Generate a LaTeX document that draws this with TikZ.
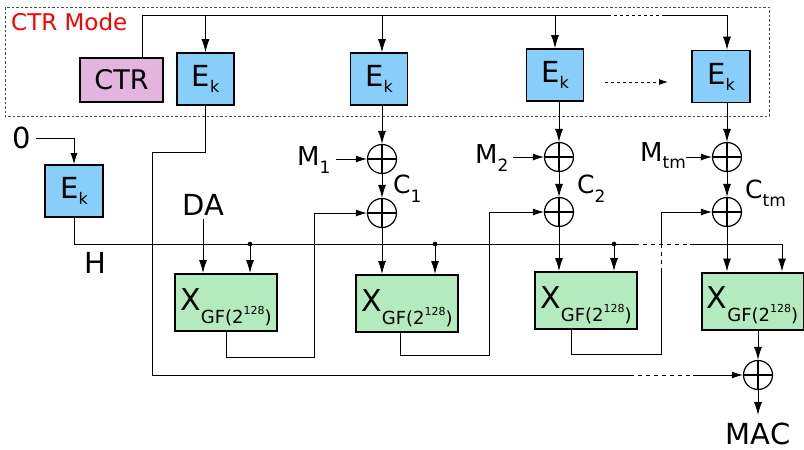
\documentclass[tikz,border=0pt]{standalone}
\usepackage{fontspec}
\setmainfont{DejaVu Sans}
\usetikzlibrary{arrows.meta}
\definecolor{ekblue}{RGB}{135,206,250}
\definecolor{ctrpink}{RGB}{226,180,222}
\definecolor{xgreen}{RGB}{180,235,190}
\newcommand\fsz[1]{\fontsize{#1}{#1}\selectfont}
\newcommand\lowsub[3]{\raisebox{-#1}{\fsz{#2}#3}}
\newcommand\Ek{{\fsz{29}E}\lowsub{6pt}{16}{k}}
\newcommand\Xgf{{\fsz{30}X}\raisebox{-13pt}{\fsz{18}GF(2\raisebox{9pt}{\fsz{11}128})}}
\begin{document}
\begin{tikzpicture}[x=1pt,y=-1pt,
  ln/.style={line width=0.9pt},
  arr/.style={ln,-{Latex[length=13pt,width=8pt]}},
  harr/.style={ln,-{Latex[length=11pt,width=7pt]}},
  ekbox/.style={draw, line width=1.6pt, fill=ekblue, minimum width=57pt, minimum height=52pt, inner sep=0pt},
  ctrbox/.style={draw, line width=1.6pt, fill=ctrpink, minimum width=83pt, minimum height=44pt, inner sep=0pt},
  xbox/.style={draw, line width=2pt, fill=xgreen, minimum width=102pt, minimum height=57pt, inner sep=0pt, text height=23pt, text depth=8pt},
  xorc/.style={circle, draw, line width=1.2pt, minimum size=29pt, inner sep=0pt,
    path picture={\draw[line width=1.2pt] (path picture bounding box.north) -- (path picture bounding box.south)
      (path picture bounding box.west) -- (path picture bounding box.east);}},
  lbl/.style={anchor=base west, inner sep=0pt}
]
\useasboundingbox (0,0) rectangle (804,450);

% CTR mode frame
\draw[dashed, dash pattern=on 2.5pt off 2pt, line width=0.8pt, black!70] (5,7) rectangle (769,116);
\node[anchor=base west, inner sep=0pt, text=red, font=\fsz{23}] (mode) at (11,30) {CTR Mode};

% blocks
\node[ctrbox] (ctr) at (121.5,80) {\fsz{27}CTR};
\node[ekbox] (ek1) at (205.5,79) {\Ek};
\node[ekbox] (ek2) at (379,79) {\Ek};
\node[ekbox] (ek3) at (555,75) {\Ek};
\node[ekbox, minimum width=58pt] (ek4) at (721,76.5) {\Ek};
\node[ekbox, minimum width=58pt] (ek0) at (74,191) {\Ek};

\node[xorc] (xa1) at (382,159) {};
\node[xorc] (xa2) at (559,157) {};
\node[xorc] (xa3) at (727,157) {};
\node[xorc] (xb1) at (382,213) {};
\node[xorc] (xb2) at (559,212) {};
\node[xorc] (xb3) at (727,212) {};
\node[xorc] (xf) at (758,375) {};

\node[xbox] (x1) at (226,302.5) {\Xgf};
\node[xbox] (x2) at (407,303.5) {\Xgf};
\node[xbox] (x3) at (586,300.5) {\Xgf};
\node[xbox] (x4) at (752.5,301) {\Xgf};

% labels
\node[anchor=base, font=\fsz{29}, inner sep=0pt] (zero) at (22,148) {0};
\node[anchor=base, font=\fsz{29}, inner sep=0pt] (da) at (203,215) {DA};
\node[anchor=base, font=\fsz{29}, inner sep=0pt] (h) at (95,273) {H};
\node[anchor=base, font=\fsz{29}, inner sep=0pt] (mac) at (758,444) {MAC};
\node[lbl] (m1) at (297,165) {{\fsz{26}M}\lowsub{8pt}{17}{1}};
\node[lbl] (m2) at (475,163) {{\fsz{26}M}\lowsub{8pt}{17}{2}};
\node[lbl] (mtm) at (640,161) {{\fsz{26}M}\lowsub{7pt}{17}{tm}};
\node[lbl] (c1) at (393,193) {{\fsz{25}C}\lowsub{9pt}{17}{1}};
\node[lbl] (c2) at (577,193) {{\fsz{25}C}\lowsub{9pt}{17}{2}};
\node[lbl] (ctm) at (745,198) {{\fsz{25}C}\lowsub{8pt}{17}{tm}};

% coordinates
\coordinate (tl0) at (142,15.5);
\coordinate (tla) at (608,15.5);
\coordinate (tlb) at (663,15.5);
\coordinate (z0) at (36,138);
\coordinate (ha) at (635,244);
\coordinate (hb) at (690,244);
\coordinate (d1) at (250,244);
\coordinate (d2) at (435,244);
\coordinate (d3) at (614,244);
\coordinate (m1a) at (336,159);
\coordinate (m2a) at (513,157);
\coordinate (mtma) at (686,157);
\coordinate (f1) at (314,357);
\coordinate (f2) at (489,355);
\coordinate (f3) at (661,354);
\coordinate (f3a) at (661,272);
\coordinate (f3b) at (661,246);
\coordinate (la) at (152,152);
\coordinate (lb) at (630,375);
\coordinate (lc) at (693,375);
\coordinate (dda) at (605,82);
\coordinate (ddb) at (668,82);
\coordinate (dao) at (203,219);
\coordinate (macin) at (758,415);

% counter line
\draw[ln] (ctr.north -| tl0) -- (tl0) -- (tla);
\draw[ln, dashed, dash pattern=on 3pt off 3pt] (tla) -- (tlb);
\draw[arr] (tlb) -| (ek4.north -| xa3);
\draw[arr] (ek1.north |- tl0) -- (ek1.north);
\draw[arr] (xa1 |- tl0) -- (ek2.north -| xa1);
\draw[arr] (ek3.north |- tl0) -- (ek3.north);
\draw[ln, dashed, dash pattern=on 3pt off 3pt, -{Latex[length=9pt,width=6pt]}] (dda) -- (ddb);

% keystream to xor
\draw[arr] (ek2.south -| xa1) -- (xa1.north);
\draw[arr] (ek3.south -| xa2) -- (xa2.north);
\draw[arr] (ek4.south -| xa3) -- (xa3.north);
\draw[harr] (m1a) -- (xa1.west);
\draw[harr] (m2a) -- (xa2.west);
\draw[harr] (mtma) -- (xa3.west);
\draw[arr] (xa1.south) -- (xb1.north);
\draw[arr] (xa2.south) -- (xb2.north);
\draw[arr] (xa3.south) -- (xb3.north);
\draw[arr] (xb1.south) -- (x2.north -| xb1);
\draw[arr] (xb2.south) -- (x3.north -| xb2);
\draw[arr] (xb3.south) -- (x4.north -| xb3);

% H
\draw[harr] (z0) -| (ek0.north);
\draw[ln] (ek0.south) |- (ha);
\draw[ln, dashed, dash pattern=on 4pt off 4pt] (ha) -- (hb);
\draw[arr] (hb) -| ([xshift=29.5pt]x4.north);
\foreach \d/\b in {d1/x1, d2/x2, d3/x3}{
  \fill (\d) circle (2.3pt);
  \draw[arr] (\d) -- (\b.north -| \d);
}
\draw[arr] (dao) -- (x1.north -| dao);

% feedback
\draw[harr] (x1.south) |- (f1) |- (xb1.west);
\draw[harr] ([xshift=-7pt]x2.south) |- (f2) |- (xb2.west);
\draw[ln] ([xshift=-15pt]x3.south) |- (f3) -- (f3a);
\draw[ln, dashed, dash pattern=on 4pt off 4pt] (f3a) -- (f3b);
\draw[harr] (f3b) |- (xb3.west);

% tag path
\draw[ln] (ek1.south) |- (la) |- (lb);
\draw[ln, dashed, dash pattern=on 4pt off 4pt] (lb) -- (lc);
\draw[harr] (lc) -- (xf.west);
\draw[arr] (x4.south -| xf) -- (xf.north);
\draw[arr] (xf.south) -- (macin);
\end{tikzpicture}
\end{document}
